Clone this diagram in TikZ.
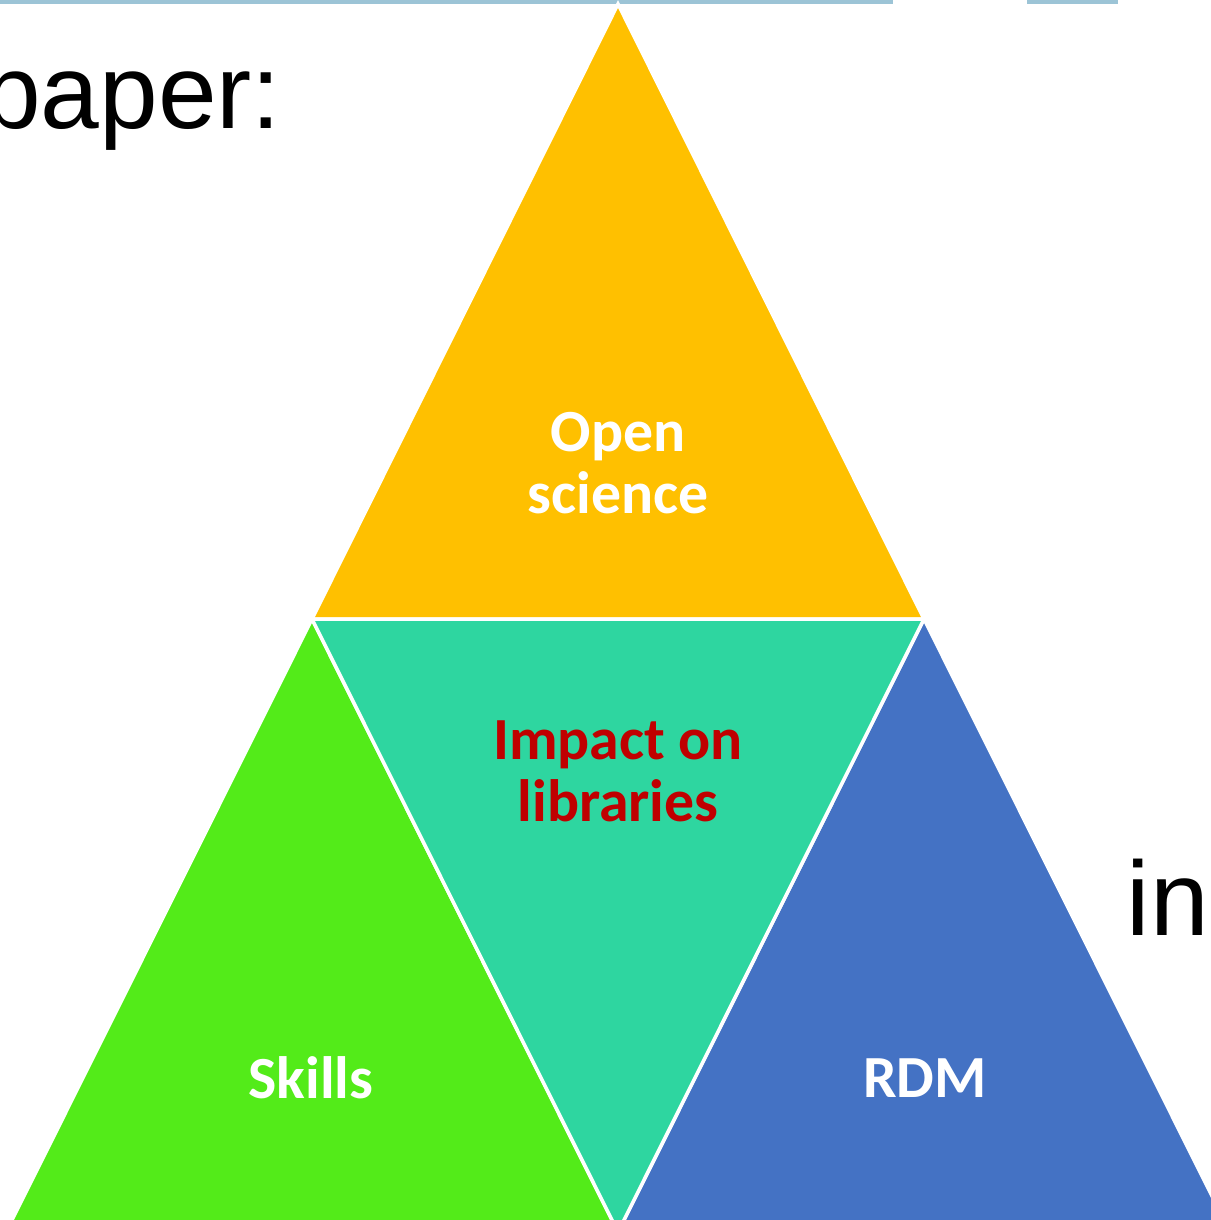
\documentclass[tikz,border=0pt]{standalone}
\usepackage{fontspec}
\setmainfont{Liberation Sans}
\newfontfamily\calibri{Carlito}
\usepackage{tikz}

\definecolor{osyellow}{HTML}{FFC000}
\definecolor{impteal}{HTML}{2ED6A0}
\definecolor{skgreen}{HTML}{53EB19}
\definecolor{rdmblue}{HTML}{4472C4}
\definecolor{impred}{HTML}{C00000}
\definecolor{barblue}{HTML}{9CC4D6}

\tikzset{
  tri/.style={draw=white,line width=1pt,line join=miter},
  lbl/.style={font=\calibri\bfseries\fontsize{17}{17.6}\selectfont,align=center,text=white},
  word/.style={font=\fontsize{30}{36}\selectfont,inner sep=0pt}
}

\begin{document}
\begin{tikzpicture}[x=0.01cm,y=-0.01cm]
\useasboundingbox (0,0) rectangle (1211,1220);
\clip (0,0) rectangle (1211,1220);
% strip along the top edge
\fill[barblue] (0,0) rectangle (893,3.5);
\fill[barblue] (1027,0) rectangle (1118,3.5);
% corners of the pyramid
\coordinate (apex) at (618,4);
\coordinate (ml) at (312,619);
\coordinate (mr) at (924,619);
\coordinate (bl) at (6,1232);
\coordinate (bm) at (618,1232);
\coordinate (br) at (1230,1232);
\filldraw[tri,fill=osyellow] (apex)--(ml)--(mr)--cycle;
\filldraw[tri,fill=skgreen] (ml)--(bl)--(bm)--cycle;
\filldraw[tri,fill=rdmblue] (mr)--(bm)--(br)--cycle;
\filldraw[tri,fill=impteal] (ml)--(mr)--(bm)--cycle;
\node[lbl] (open) at (618,463) {Open\\science};
\node[lbl,text=impred] (impact) at (618,771) {Impact on\\libraries};
\node[lbl] (skills) at (311,1078) {Skills};
\node[lbl] (rdm) at (925,1078) {RDM};
% text running behind the slide
\node[word,anchor=base east] (paper) at (282,128) {paper:};
\node[word,anchor=base west] (in) at (1126,935) {in};
\end{tikzpicture}
\end{document}
